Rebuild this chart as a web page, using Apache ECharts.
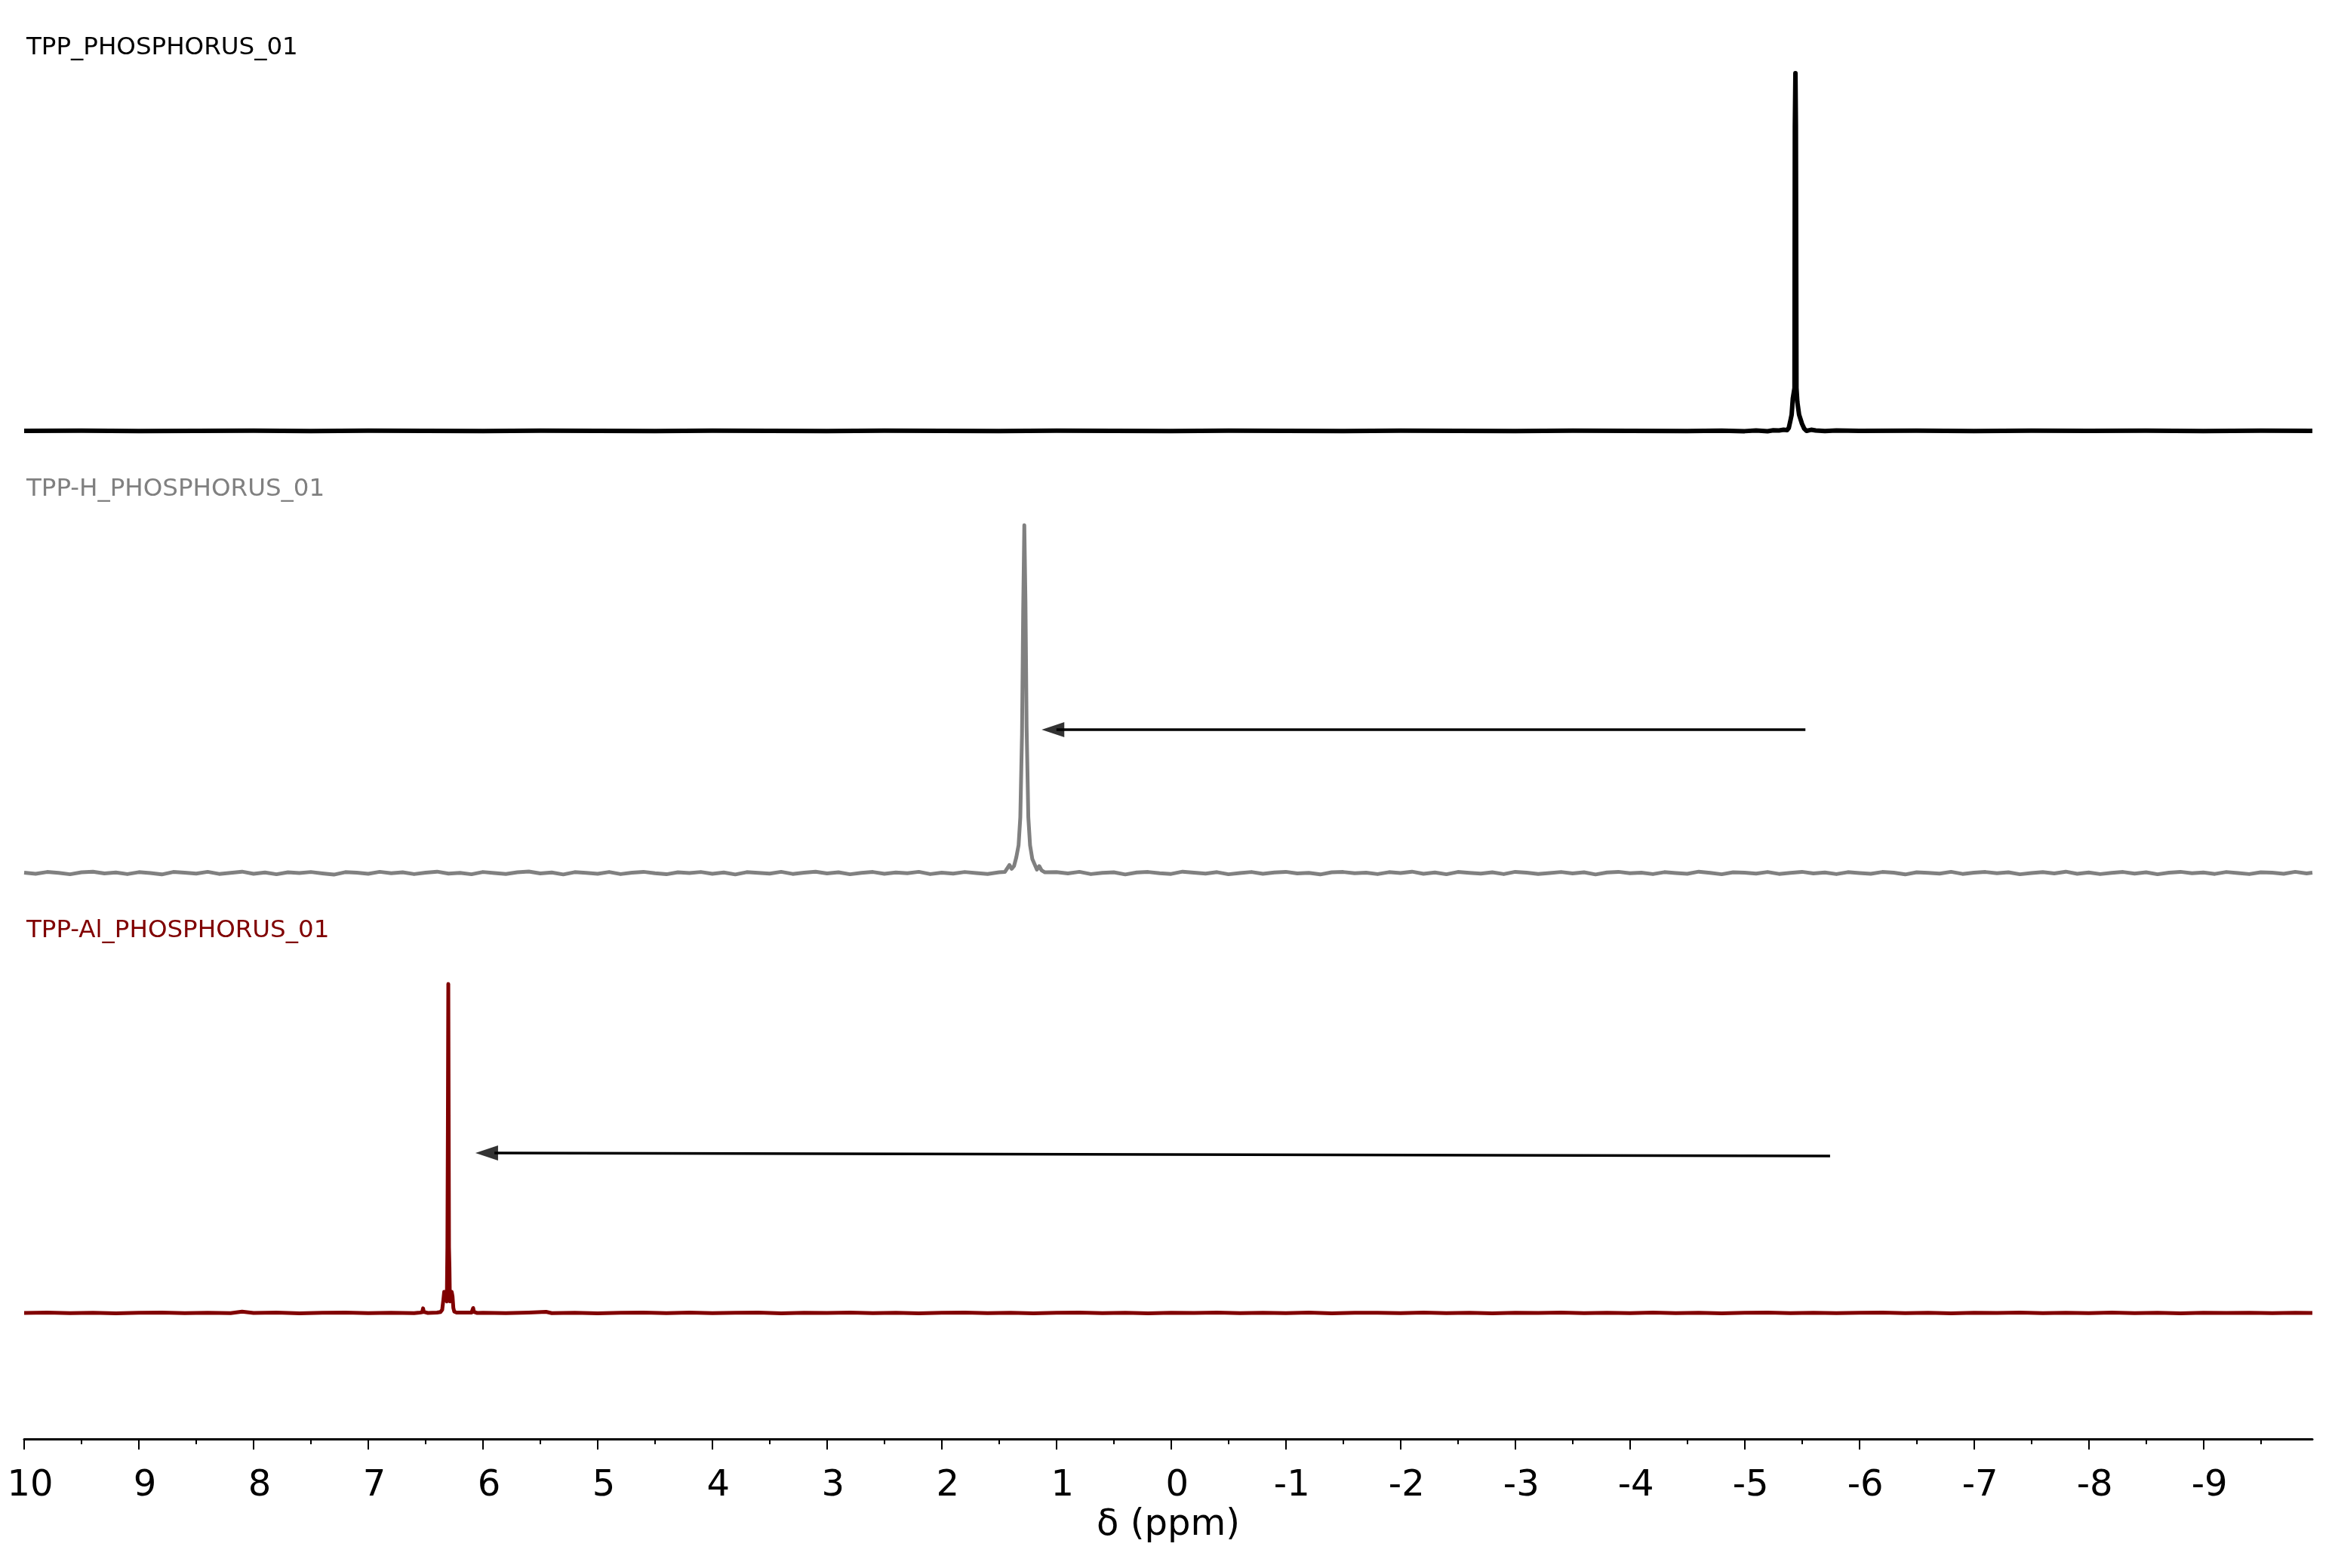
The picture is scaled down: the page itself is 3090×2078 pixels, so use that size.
<!DOCTYPE html>
<html><head><meta charset="utf-8">
<script src="https://cdn.jsdelivr.net/npm/echarts@6/dist/echarts.min.js"></script>
<style>html,body{margin:0;padding:0;background:#fff}#c{width:3090px;height:2078px}</style>
</head><body><div id="c"></div>
<script>
// ---------- data ----------
const spectrumNames = ['TPP_PHOSPHORUS_01', 'TPP-H_PHOSPHORUS_01', 'TPP-Al_PHOSPHORUS_01'];
const spectrumColors = ['#000000', '#808080', '#800000'];
const axisTitle = 'δ (ppm)';
const majorTicks = [10, 9, 8, 7, 6, 5, 4, 3, 2, 1, 0, -1, -2, -3, -4, -5, -6, -7, -8, -9];
const minorTicks = [9.5, 8.5, 7.5, 6.5, 5.5, 4.5, 3.5, 2.5, 1.5, 0.5, -0.5, -1.5, -2.5, -3.5, -4.5, -5.5, -6.5, -7.5, -8.5, -9.5];

// TPP (black) : [ppm, intensity]
const tppSpectrum = [
  [10.0,0.0],[9.5,0.05],[9.0,-0.05],[8.5,0.0],[8.0,0.05],[7.5,-0.03],[7.0,0.03],[6.5,0.0],[6.0,-0.05],[5.5,0.04],
  [5.0,0.0],[4.5,-0.04],[4.0,0.03],[3.5,0.0],[3.0,-0.03],[2.5,0.04],[2.0,0.0],[1.5,-0.04],[1.0,0.03],[0.5,0.0],
  [0.0,-0.03],[-0.5,0.03],[-1.0,0.0],[-1.5,-0.04],[-2.0,0.04],[-2.5,0.0],[-3.0,-0.03],[-3.5,0.03],[-4.0,0.0],[-4.5,-0.05],
  [-4.8,0.06],[-5.0,-0.08],[-5.1,0.1],[-5.2,-0.1],[-5.25,0.15],[-5.3,0.1],[-5.34,0.3],[-5.37,0.2],[-5.385,0.8],[-5.40,3.0],
  [-5.41,4.5],[-5.42,9],[-5.435,12],[-5.438,85],[-5.443,100],[-5.447,85],[-5.452,12],[-5.46,8],[-5.475,4.5],[-5.49,3.0],
  [-5.50,2.0],[-5.52,0.6],[-5.54,0.0],[-5.58,0.3],[-5.62,0.1],[-5.7,-0.05],[-5.8,0.1],[-6.0,0.0],[-6.5,0.04],[-7.0,-0.03],
  [-7.5,0.03],[-8.0,0.0],[-8.5,0.04],[-9.0,-0.03],[-9.5,0.03],[-9.95,0.0]
];

// TPP-H (grey) : [ppm, intensity]
const tppHSpectrum = [
  [10.0,0.1],[9.9,-0.2],[9.8,0.3],[9.7,0.05],[9.6,-0.35],[9.5,0.2],[9.4,0.4],[9.3,-0.1],[9.2,0.15],[9.1,-0.3],
  [9.0,0.25],[8.9,0.0],[8.8,-0.4],[8.7,0.3],[8.6,0.1],[8.5,-0.15],[8.4,0.35],[8.3,-0.25],[8.2,0.05],[8.1,0.4],
  [8.0,-0.2],[7.9,0.15],[7.8,-0.35],[7.7,0.2],[7.6,0.0],[7.5,0.3],[7.4,-0.1],[7.3,-0.45],[7.2,0.25],[7.1,0.1],
  [7.0,-0.2],[6.9,0.35],[6.8,-0.05],[6.7,0.2],[6.6,-0.3],[6.5,0.1],[6.4,0.4],[6.3,-0.15],[6.2,0.05],[6.1,-0.35],
  [6.0,0.3],[5.9,0.0],[5.8,-0.25],[5.7,0.2],[5.6,0.45],[5.5,-0.1],[5.4,0.15],[5.3,-0.4],[5.2,0.25],[5.1,0.05],
  [5.0,-0.2],[4.9,0.3],[4.8,-0.3],[4.7,0.1],[4.6,0.35],[4.5,-0.05],[4.4,-0.35],[4.3,0.2],[4.2,0.0],[4.1,0.3],
  [4.0,-0.2],[3.9,0.15],[3.8,-0.4],[3.7,0.25],[3.6,0.05],[3.5,-0.15],[3.4,0.35],[3.3,-0.25],[3.2,0.1],[3.1,0.4],
  [3.0,-0.1],[2.9,0.2],[2.8,-0.35],[2.7,0.05],[2.6,0.3],[2.5,-0.2],[2.4,0.15],[2.3,-0.05],[2.2,0.35],[2.1,-0.3],
  [2.0,0.1],[1.9,-0.15],[1.8,0.3],[1.7,0.0],[1.6,-0.25],[1.5,0.2],
  [1.45,0.3],[1.41,2.3],[1.39,1.2],[1.37,2.0],[1.35,4.5],[1.33,8],[1.315,16],[1.30,40],[1.29,75],[1.28,100],
  [1.27,78],[1.26,42],[1.245,16],[1.23,8],[1.21,4],[1.19,2.5],[1.17,1.0],[1.15,2.0],[1.13,0.8],[1.10,0.2],
  [1.0,0.25],[0.9,-0.1],[0.8,0.35],[0.7,-0.3],[0.6,0.05],[0.5,0.2],[0.4,-0.4],[0.3,0.15],[0.2,0.3],[0.1,-0.05],
  [0.0,-0.25],[-0.1,0.4],[-0.2,0.1],[-0.3,-0.15],[-0.4,0.25],[-0.5,-0.35],[-0.6,0.0],[-0.7,0.3],[-0.8,-0.2],[-0.9,0.15],
  [-1.0,0.35],[-1.1,-0.1],[-1.2,0.05],[-1.3,-0.4],[-1.4,0.2],[-1.5,0.3],[-1.6,-0.05],[-1.7,0.1],[-1.8,-0.3],[-1.9,0.25],
  [-2.0,0.0],[-2.1,0.4],[-2.2,-0.2],[-2.3,0.15],[-2.4,-0.35],[-2.5,0.3],[-2.6,0.05],[-2.7,-0.15],[-2.8,0.2],[-2.9,-0.3],
  [-3.0,0.35],[-3.1,0.1],[-3.2,-0.25],[-3.3,0.0],[-3.4,0.3],[-3.5,-0.1],[-3.6,0.2],[-3.7,-0.4],[-3.8,0.15],[-3.9,0.35],
  [-4.0,-0.05],[-4.1,0.1],[-4.2,-0.3],[-4.3,0.25],[-4.4,0.0],[-4.5,-0.2],[-4.6,0.4],[-4.7,0.05],[-4.8,-0.35],[-4.9,0.2],
  [-5.0,0.1],[-5.1,-0.15],[-5.2,0.3],[-5.3,-0.25],[-5.4,0.05],[-5.5,0.35],[-5.6,-0.1],[-5.7,0.15],[-5.8,-0.3],[-5.9,0.25],
  [-6.0,0.0],[-6.1,-0.2],[-6.2,0.3],[-6.3,0.1],[-6.4,-0.4],[-6.5,0.2],[-6.6,0.05],[-6.7,-0.15],[-6.8,0.35],[-6.9,-0.25],
  [-7.0,0.1],[-7.1,0.3],[-7.2,-0.05],[-7.3,0.2],[-7.4,-0.35],[-7.5,0.0],[-7.6,0.25],[-7.7,-0.1],[-7.8,0.4],[-7.9,-0.2],
  [-8.0,0.15],[-8.1,-0.3],[-8.2,0.05],[-8.3,0.3],[-8.4,-0.15],[-8.5,0.2],[-8.6,-0.35],[-8.7,0.1],[-8.8,0.35],[-8.9,-0.05],
  [-9.0,0.15],[-9.1,-0.25],[-9.2,0.3],[-9.3,0.0],[-9.4,-0.3],[-9.5,0.2],[-9.6,0.1],[-9.7,-0.2],[-9.8,0.35],[-9.9,-0.1],[-9.95,0.1]
];

// TPP-Al (dark red) : [ppm, intensity]
const tppAlSpectrum = [
  [10.0,0.0],[9.8,0.1],[9.6,-0.05],[9.4,0.08],[9.2,-0.1],[9.0,0.05],[8.8,0.12],[8.6,-0.06],[8.4,0.04],[8.2,-0.08],
  [8.1,0.4],[8.0,0.0],[7.8,0.1],[7.6,-0.1],[7.4,0.06],[7.2,0.12],[7.0,-0.05],[6.8,0.08],[6.6,-0.06],
  [6.55,0.1],[6.53,0.2],[6.522,1.4],[6.515,0.3],[6.48,0.0],[6.40,0.1],[6.37,0.3],[6.355,1.0],[6.345,4.0],[6.338,6.4],
  [6.33,6.0],[6.322,4.0],[6.315,3.5],[6.31,20],[6.306,55],[6.302,100],[6.299,60],[6.296,20],[6.292,14],[6.288,3.5],
  [6.28,4.5],[6.272,6.4],[6.265,5.0],[6.258,1.5],[6.25,0.4],[6.23,0.1],[6.10,0.1],[6.092,0.3],[6.085,1.5],[6.078,0.3],[6.05,0.0],
  [6.0,0.05],[5.8,-0.08],[5.6,0.1],[5.45,0.35],[5.4,-0.05],[5.2,0.08],[5.0,-0.1],[4.8,0.05],[4.6,0.12],[4.4,-0.06],
  [4.2,0.1],[4.0,-0.08],[3.8,0.04],[3.6,0.12],[3.4,-0.1],[3.2,0.06],[3.0,0.0],[2.8,0.1],[2.6,-0.05],[2.4,0.08],
  [2.2,-0.1],[2.0,0.05],[1.8,0.12],[1.6,-0.04],[1.4,0.08],[1.2,-0.1],[1.0,0.06],[0.8,0.1],[0.6,-0.06],[0.4,0.04],
  [0.2,-0.1],[0.0,0.08],[-0.2,0.0],[-0.4,0.1],[-0.6,-0.08],[-0.8,0.06],[-1.0,-0.04],[-1.2,0.1],[-1.4,-0.1],[-1.6,0.05],
  [-1.8,0.08],[-2.0,-0.06],[-2.2,0.1],[-2.4,-0.04],[-2.6,0.06],[-2.8,-0.1],[-3.0,0.08],[-3.2,0.0],[-3.4,0.1],[-3.6,-0.08],
  [-3.8,0.05],[-4.0,-0.05],[-4.2,0.1],[-4.4,-0.06],[-4.6,0.08],[-4.8,-0.1],[-5.0,0.05],[-5.2,0.1],[-5.4,-0.05],[-5.6,0.08],
  [-5.8,-0.08],[-6.0,0.04],[-6.2,0.1],[-6.4,-0.06],[-6.6,0.05],[-6.8,-0.1],[-7.0,0.08],[-7.2,0.0],[-7.4,0.1],[-7.6,-0.06],
  [-7.8,0.05],[-8.0,-0.08],[-8.2,0.1],[-8.4,-0.04],[-8.6,0.06],[-8.8,-0.1],[-9.0,0.08],[-9.2,0.0],[-9.4,0.06],[-9.6,-0.06],
  [-9.8,0.05],[-9.95,0.0]
];

// arrows (data coordinates: [ppm, intensity])
const arrowHShaft = [[-5.53,41.2],[1.0,41.2]];
const arrowHHead = [[1.03,41.2]];
const arrowAlShaft = [[-5.745,47.7],[5.9,48.6]];
const arrowAlHead = [[5.967,48.6]];

// ---------- chart ----------
const FONT = 'DejaVu Sans';
const chart = echarts.init(document.getElementById('c'), null, {renderer: 'canvas', width: 3090, height: 2078});
const xBase = {type: 'value', min: -9.95, max: 10, inverse: true, splitLine: {show: false}};
const gridTops = [97, 696, 1304];
const gridHeights = [474, 461, 436];
const titleTops = [47, 632, 1217];
const spectra = [tppSpectrum, tppHSpectrum, tppAlSpectrum];
const lineWidths = [6, 5, 5];

const series = spectra.map((d, i) => ({
  type: 'line', xAxisIndex: i, yAxisIndex: i, data: d, showSymbol: false, symbol: 'none',
  clip: false, silent: true, sampling: null,
  lineStyle: {color: spectrumColors[i], width: lineWidths[i], join: 'round'}
}));
[[arrowHShaft, arrowHHead, 1], [arrowAlShaft, arrowAlHead, 2]].forEach(([shaft, head, g]) => {
  series.push({type: 'line', xAxisIndex: g, yAxisIndex: g, data: shaft, showSymbol: false, symbol: 'none',
    clip: false, silent: true, lineStyle: {color: '#000', width: 3.5}});
  series.push({type: 'scatter', xAxisIndex: g, yAxisIndex: g, data: head, symbol: 'triangle',
    symbolSize: [20, 30], symbolRotate: 90, clip: false, silent: true, itemStyle: {color: '#000'}});
});

chart.setOption({
  animation: false,
  backgroundColor: '#ffffff',
  title: spectrumNames.map((n, i) => ({
    text: n, left: 35, top: titleTops[i], padding: 0,
    textStyle: {fontFamily: FONT, fontSize: 32.5, fontWeight: 'normal', color: spectrumColors[i]}
  })),
  grid: gridTops.map((t, i) => ({left: 32, right: 26, top: t, height: gridHeights[i]})),
  xAxis: [
    Object.assign({}, xBase, {gridIndex: 0, show: false}),
    Object.assign({}, xBase, {gridIndex: 1, show: false}),
    Object.assign({}, xBase, {
      gridIndex: 2, position: 'bottom', offset: 167,
      axisLine: {show: true, onZero: false, lineStyle: {color: '#000', width: 3}},
      axisTick: {show: true, inside: false, length: 14, customValues: majorTicks, lineStyle: {color: '#000', width: 2}},
      axisLabel: {show: true, customValues: majorTicks, margin: 39, padding: [0, 0, 0, 16],
        fontFamily: FONT, fontSize: 48, color: '#000', formatter: v => String(v)},
      name: axisTitle, nameLocation: 'middle', nameGap: 91,
      nameTextStyle: {fontFamily: FONT, fontSize: 48, color: '#000'}
    }),
    Object.assign({}, xBase, {
      gridIndex: 2, position: 'bottom', offset: 167,
      axisLine: {show: false, onZero: false},
      axisTick: {show: true, inside: false, length: 7, customValues: minorTicks, lineStyle: {color: '#000', width: 2}},
      axisLabel: {show: false}
    })
  ],
  yAxis: [0, 1, 2].map(i => ({type: 'value', gridIndex: i, min: 0, max: 100, show: false})),
  series: series
});
</script></body></html>
